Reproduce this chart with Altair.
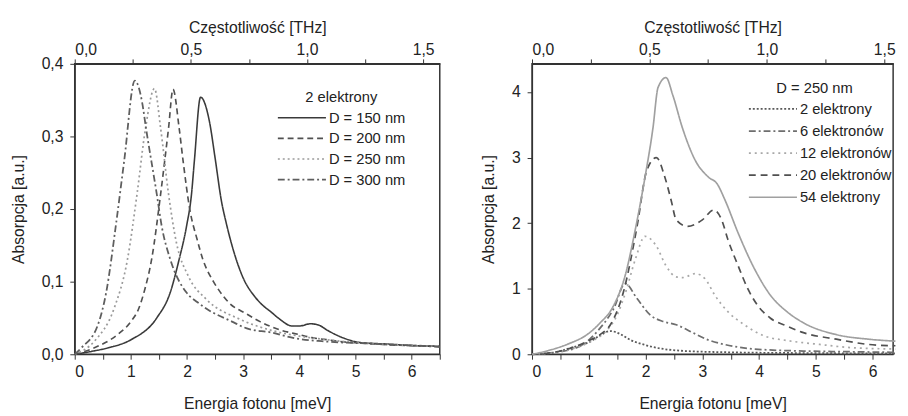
import altair as alt
import pandas as pd

MEV_TO_THZ = 0.241799

# ---------------- Left panel: 2 elektrony, different D ----------------
left_names = ["D = 150 nm", "D = 200 nm", "D = 250 nm", "D = 300 nm"]

e150 = [0, 0.3, 0.6, 1.0, 1.46, 1.7, 1.86, 1.99, 2.08, 2.13, 2.24, 2.4, 2.5, 2.61, 2.7, 2.8, 3.0, 3.2, 3.34, 3.5, 3.64, 3.87, 4.0, 4.2, 4.35, 4.5, 4.8, 5.1, 5.6, 6.0, 6.5]
a150 = [0, 0.004, 0.009, 0.02, 0.05, 0.085, 0.131, 0.176, 0.221, 0.266, 0.354, 0.32, 0.27, 0.212, 0.18, 0.15, 0.105, 0.08, 0.068, 0.058, 0.049, 0.039, 0.039, 0.042, 0.04, 0.033, 0.022, 0.016, 0.014, 0.012, 0.011]

e200 = [0, 0.35, 0.76, 1.0, 1.14, 1.25, 1.37, 1.53, 1.67, 1.75, 1.86, 1.93, 2.05, 2.18, 2.28, 2.47, 2.57, 2.76, 3.05, 3.3, 3.64, 4.0, 4.22, 4.5, 4.81, 5.2, 5.6, 6.0, 6.5]
a200 = [0, 0.009, 0.027, 0.045, 0.063, 0.09, 0.131, 0.221, 0.311, 0.365, 0.311, 0.266, 0.199, 0.158, 0.131, 0.1, 0.088, 0.07, 0.056, 0.045, 0.034, 0.027, 0.023, 0.02, 0.017, 0.015, 0.013, 0.012, 0.011]

e250 = [0, 0.35, 0.70, 0.94, 1.11, 1.26, 1.42, 1.53, 1.67, 1.81, 2.02, 2.34, 2.92, 3.5, 4.0, 4.5, 5.0, 5.5, 6.0, 6.5]
a250 = [0, 0.018, 0.063, 0.131, 0.221, 0.311, 0.366, 0.311, 0.221, 0.154, 0.108, 0.076, 0.049, 0.033, 0.025, 0.02, 0.016, 0.014, 0.012, 0.011]

e300 = [0, 0.12, 0.41, 0.56, 0.73, 0.88, 1.07, 1.2, 1.27, 1.46, 1.55, 1.70, 1.99, 2.18, 2.34, 2.8, 3.05, 3.5, 3.93, 4.4, 4.81, 5.2, 5.68, 6.1, 6.5]
a300 = [0, 0.009, 0.04, 0.085, 0.176, 0.266, 0.377, 0.347, 0.311, 0.221, 0.176, 0.131, 0.085, 0.072, 0.063, 0.045, 0.036, 0.03, 0.022, 0.018, 0.016, 0.015, 0.013, 0.012, 0.01]

left_colors = ["#3a3a3a", "#505050", "#9a9a9a", "#5e5e5e"]
left_dashes = [[1, 0], [6, 4], [2, 3], [7, 3, 2, 3]]
left_widths = [1.6, 1.8, 1.6, 1.7]

# ---------------- Right panel: D = 250 nm, different electron numbers ----------------
right_names = ["2 elektrony", "6 elektronów", "12 elektronów", "20 elektronów", "54 elektrony"]

e2 = [0, 0.4, 0.69, 1.04, 1.2, 1.38, 1.55, 1.73, 2.0, 2.19, 2.7, 3.5, 4.5, 5.5, 6.4]
a2 = [0, 0.03, 0.1, 0.2, 0.29, 0.355, 0.31, 0.22, 0.14, 0.1, 0.05, 0.03, 0.02, 0.015, 0.012]

e6 = [0, 0.5, 0.9, 1.15, 1.44, 1.64, 1.85, 2.08, 2.31, 2.54, 2.83, 3.1, 3.34, 3.92, 4.78, 5.5, 6.4]
a6 = [0, 0.04, 0.15, 0.35, 0.70, 1.08, 0.85, 0.6, 0.5, 0.45, 0.33, 0.22, 0.16, 0.08, 0.05, 0.04, 0.03]

e12 = [0, 0.5, 1.0, 1.3, 1.5, 1.65, 1.82, 1.99, 2.19, 2.36, 2.54, 2.65, 2.88, 3.05, 3.22, 3.45, 3.74, 4.09, 4.49, 5.07, 5.65, 6.4]
a12 = [0, 0.04, 0.18, 0.35, 0.6, 0.95, 1.45, 1.80, 1.65, 1.35, 1.18, 1.17, 1.23, 1.15, 0.90, 0.65, 0.45, 0.28, 0.21, 0.15, 0.1, 0.08]

e20 = [0, 0.5, 0.98, 1.2, 1.38, 1.61, 1.85, 2.02, 2.19, 2.34, 2.45, 2.54, 2.74, 3.0, 3.2, 3.34, 3.45, 3.63, 3.80, 3.97, 4.2, 4.49, 4.78, 5.36, 5.93, 6.4]
a20 = [0, 0.05, 0.2, 0.3, 0.45, 0.95, 1.95, 2.80, 3.0, 2.70, 2.35, 2.05, 1.95, 2.05, 2.2, 2.05, 1.75, 1.35, 1.0, 0.75, 0.55, 0.43, 0.33, 0.23, 0.15, 0.13]

e54 = [0, 0.3, 0.63, 1.0, 1.2, 1.41, 1.64, 1.83, 1.99, 2.13, 2.22, 2.36, 2.48, 2.65, 2.88, 3.11, 3.26, 3.40, 3.63, 3.92, 4.2, 4.49, 4.78, 5.36, 5.93, 6.4]
a54 = [0, 0.06, 0.155, 0.32, 0.48, 0.70, 1.2, 1.95, 2.70, 3.45, 4.07, 4.22, 3.95, 3.45, 2.95, 2.70, 2.60, 2.35, 1.85, 1.3, 0.90, 0.65, 0.48, 0.30, 0.23, 0.2]

right_colors = ["#5a5a5a", "#6e6e6e", "#a8a8a8", "#505050", "#a0a0a0"]
right_dashes = [[2, 2], [7, 3, 2, 3], [2, 4], [7, 5], [1, 0]]
right_widths = [1.8, 1.7, 1.6, 1.9, 1.2]

FONT = "Liberation Sans"
INK = "#222222"
LEGEND_LINE = "M-3.9,0H1"   # long horizontal line as legend symbol


def make_df(names, series):
    rows = []
    for name, (es, vals) in zip(names, series):
        for i, (e, a) in enumerate(zip(es, vals)):
            rows.append({"s": name, "E": e, "A": a, "i": i})
    return pd.DataFrame(rows)


def panel(df, names, colors, dashes, widths, xmax, width, ymax, yvals, ylabel_expr,
          legend_title, lx, ly, row_pad):
    leg = alt.Legend(
        title=legend_title, orient="none", legendX=lx, legendY=ly,
        symbolType=LEGEND_LINE, symbolSize=400, symbolStrokeWidth=1.6,
        symbolFillColor="transparent",
        labelFont=FONT, labelFontSize=15, labelColor=INK, labelOffset=2,
        titleFont=FONT, titleFontSize=15, titleFontWeight="normal", titleColor=INK,
        titleAnchor="start", titlePadding=2, rowPadding=row_pad, padding=0,
    )
    xbottom = alt.X(
        "E:Q",
        scale=alt.Scale(domain=[0, xmax], nice=False, zero=True),
        axis=alt.Axis(
            title="Energia fotonu [meV]",
            values=[v / 2 for v in range(0, int(xmax * 2) + 1)],
            labelExpr="datum.value % 1 == 0 ? format(datum.value, 'd') : ''",
            tickSize=5, grid=False, labelPadding=5, titlePadding=16,
        ),
    )
    y = alt.Y(
        "A:Q",
        scale=alt.Scale(domain=[0, ymax], nice=False),
        axis=alt.Axis(
            title="Absorpcja [a.u.]", values=yvals, labelExpr=ylabel_expr,
            tickSize=5, grid=False, labelPadding=7, titlePadding=15,
        ),
    )
    lines = alt.Chart(df).mark_line(interpolate="monotone").encode(
        x=xbottom,
        y=y,
        color=alt.Color("s:N", sort=names, scale=alt.Scale(domain=names, range=colors), legend=leg),
        strokeDash=alt.StrokeDash("s:N", sort=names, scale=alt.Scale(domain=names, range=dashes), legend=leg),
        strokeWidth=alt.StrokeWidth("s:N", sort=names, scale=alt.Scale(domain=names, range=widths), legend=None),
        order="i:Q",
    )
    tmax = xmax * MEV_TO_THZ
    top = alt.Chart(df).transform_calculate(F=f"datum.E * {MEV_TO_THZ}").mark_line(opacity=0).encode(
        x=alt.X(
            "F:Q",
            scale=alt.Scale(domain=[0, tmax], nice=False, zero=True),
            axis=alt.Axis(
                orient="top", title="Częstotliwość [THz]",
                values=[v / 4 for v in range(0, int(tmax * 4) + 1)],
                labelExpr="round(datum.value*100) % 50 == 0 ? replace(format(datum.value, '.1f'), '.', ',') : ''",
                tickSize=5, grid=False, labelPadding=2, titlePadding=6,
            ),
        ),
        y=alt.Y("A:Q"),
        detail="s:N",
    )
    return alt.layer(lines, top).resolve_scale(x="independent").properties(width=width, height=296)


left_df = make_df(left_names, [(e150, a150), (e200, a200), (e250, a250), (e300, a300)])
right_df = make_df(right_names, [(e2, a2), (e6, a6), (e12, a12), (e20, a20), (e54, a54)])

left_y_vals = [round(v * 0.05, 2) for v in range(0, 9)]
left_y_expr = "round(datum.value*100) % 10 == 0 ? replace(format(datum.value, '.1f'), '.', ',') : ''"
right_y_vals = [v / 2 for v in range(0, 9)]
right_y_expr = "datum.value % 1 == 0 ? format(datum.value, 'd') : ''"

left = panel(left_df, left_names, left_colors, left_dashes, left_widths, 6.5, 372, 0.4,
             left_y_vals, left_y_expr, "2 elektrony", 235, 27, 2)
right = panel(right_df, right_names, right_colors, right_dashes, right_widths, 6.36, 368, 4.43,
              right_y_vals, right_y_expr, "D = 250 nm", 249, 18, 3.5)

chart = alt.hconcat(left, right, spacing=36).resolve_scale(
    color="independent", strokeDash="independent", strokeWidth="independent"
).resolve_legend(color="independent", strokeDash="independent").properties(
    padding={"left": 2, "top": 7, "right": 0, "bottom": 0}, background="white"
).configure_view(
    stroke="#333333", strokeWidth=1.5
).configure_axis(
    labelFont=FONT, titleFont=FONT, labelFontSize=16, titleFontSize=16,
    titleFontWeight="normal", labelColor=INK, titleColor=INK,
    domainColor="#333333", tickColor="#333333", domainWidth=1.2, tickWidth=1,
)

chart.save("out.html", embed_options={"renderer": "svg", "actions": False})
